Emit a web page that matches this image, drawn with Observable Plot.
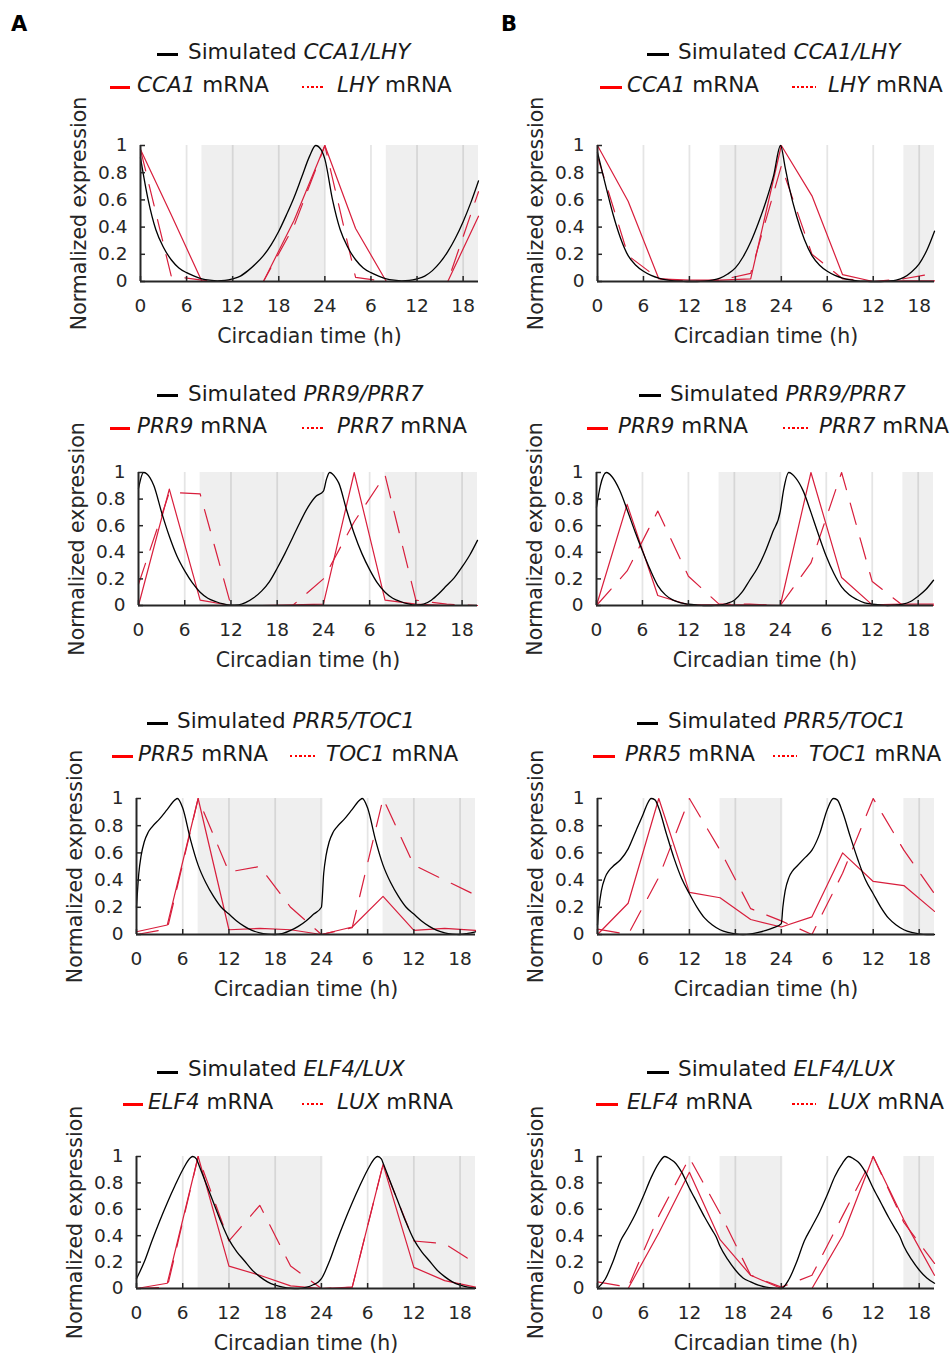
<!DOCTYPE html>
<html>
<head>
<meta charset="utf-8">
<script src="https://cdn.jsdelivr.net/npm/d3@7"></script>
<script src="https://cdn.jsdelivr.net/npm/@observablehq/plot@0.6"></script>
<style>
  html, body { margin: 0; padding: 0; background: #fff; }
  #fig { position: relative; width: 951px; height: 1356px; background: #fff; font-family: "DejaVu Sans", sans-serif; color: #1a1a1a; overflow: hidden; }
  .lg { position: absolute; font-size: 21.5px; line-height: 1; white-space: nowrap; color: #1a1a1a; }
  .sw { position: absolute; height: 3px; }
  .plab { position: absolute; font-weight: bold; font-size: 21px; line-height: 1; color: #000; }
</style>
</head>
<body>
<div id="fig"></div>
<script>
// ---------------- DATA ----------------
const sampleTimes = [0, 4, 8, 12, 16, 20, 24, 28, 32, 36, 40, 44];
const xTicks = [0, 6, 12, 18, 24, 30, 36, 42];
const xTickLabels = ["0", "6", "12", "18", "24", "6", "12", "18"];
const gridTicks = [6, 12, 18, 24, 30, 36, 42];
const yTicks = [0, 0.2, 0.4, 0.6, 0.8, 1];
const yTickLabels = ["0", "0.2", "0.4", "0.6", "0.8", "1"];
const xLabel = "Circadian time (h)";
const yLabel = "Normalized expression";
const nightsShortDay = [{start: 8, end: 24}, {start: 32, end: 44}];
const nightsLongDay = [{start: 16, end: 24}, {start: 40, end: 44}];

// Row 1: CCA1 / LHY
const cca1A = [0.97, 0.49, 0.0, 0.0, 0.0, 0.45, 1.0, 0.39, 0.0, 0.0, 0.0, 0.48];
const lhyA  = [0.97, 0.04, 0.01, 0.0, 0.0, 0.41, 1.0, 0.03, 0.0, 0.0, 0.0, 0.66];
const simCL_A = [[0,0.91],[1,0.6],[2,0.38],[3,0.25],[4,0.16],[5,0.1],[6,0.065],[7,0.04],[8,0.02],[9,0.01],[10,0.005],[11,0.008],[12,0.02],[13,0.04],[14,0.08],[15,0.13],[16,0.19],[17,0.27],[18,0.37],[19,0.49],[20,0.62],[21,0.77],[22,0.92],[22.8,1.0],[23.5,0.97],[24,0.9],[25,0.6],[26,0.38],[27,0.25],[28,0.16],[29,0.1],[30,0.065],[31,0.04],[32,0.02],[33,0.01],[34,0.005],[35,0.008],[36,0.02],[37,0.04],[38,0.08],[39,0.14],[40,0.22],[41,0.32],[42,0.44],[43,0.58],[44,0.74]];
const cca1B = [1.0, 0.59, 0.02, 0.01, 0.01, 0.02, 1.0, 0.63, 0.05, 0.0, 0.005, 0.005];
const lhyB  = [0.92, 0.19, 0.02, 0.0, 0.01, 0.06, 0.85, 0.2, 0.02, 0.0, 0.02, 0.06];
const simCL_B = [[0,0.95],[1,0.72],[2,0.5],[3,0.32],[4,0.19],[5,0.12],[6,0.075],[7,0.045],[8,0.025],[9,0.012],[10,0.005],[11,0.002],[12,0],[13,0],[14,0.003],[15,0.01],[16,0.025],[17,0.055],[18,0.1],[19,0.18],[20,0.29],[21,0.43],[22,0.59],[23,0.78],[23.9,1.0],[24.5,0.84],[25,0.7],[26,0.48],[27,0.31],[28,0.19],[29,0.12],[30,0.075],[31,0.045],[32,0.025],[33,0.012],[34,0.005],[35,0.002],[36,0],[37,0],[38,0.003],[39,0.01],[40,0.03],[41,0.07],[42,0.13],[43,0.23],[44,0.37]];

// Row 2: PRR9 / PRR7
const prr9A = [0.0, 0.875, 0.04, 0.0, 0.0, 0.005, 0.01, 1.0, 0.04, 0.01, 0.0, 0.0];
const prr7A = [0.16, 0.85, 0.84, 0.0, 0.0, 0.0, 0.2, 0.63, 0.98, 0.04, 0.01, 0.0];
const simPP_A = [[0,0.88],[0.65,1.0],[1.5,0.96],[2,0.9],[3,0.7],[4,0.52],[5,0.37],[6,0.26],[7,0.17],[8,0.1],[9,0.055],[10,0.03],[11,0.012],[12,0.003],[13,0.005],[14,0.025],[15,0.06],[16,0.11],[17,0.18],[18,0.28],[19,0.39],[20,0.51],[21,0.63],[22,0.74],[23,0.82],[24,0.86],[24.4,0.95],[24.8,1.0],[25.6,0.96],[26,0.92],[27,0.72],[28,0.54],[29,0.39],[30,0.27],[31,0.17],[32,0.1],[33,0.055],[34,0.03],[35,0.012],[36,0.003],[37,0.01],[38,0.04],[39,0.09],[40,0.15],[41,0.21],[42,0.29],[43,0.38],[44,0.49]];
const prr9B = [0.0, 0.76, 0.075, 0.005, 0.005, 0.005, 0.0, 1.0, 0.21, 0.005, 0.01, 0.01];
const prr7B = [0.0, 0.26, 0.71, 0.22, 0.01, 0.01, 0.0, 0.32, 1.0, 0.18, 0.0, 0.0];
const simPP_B = [[0,0.74],[0.5,0.9],[1.3,1.0],[2,0.97],[3,0.87],[4,0.72],[5,0.56],[6,0.41],[7,0.27],[8,0.15],[9,0.08],[10,0.04],[11,0.02],[12,0.01],[13,0.004],[14,0.0],[15,0.0],[16,0.003],[17,0.015],[18,0.04],[19,0.1],[20,0.19],[21,0.28],[22,0.4],[23,0.55],[24,0.71],[24.4,0.86],[25.1,1.0],[26,0.96],[27,0.86],[28,0.7],[29,0.53],[30,0.37],[31,0.24],[32,0.14],[33,0.08],[34,0.045],[35,0.02],[36,0.01],[37,0.004],[38,0.0],[39,0.003],[40,0.01],[41,0.03],[42,0.07],[43,0.12],[44,0.19]];

// Row 3: PRR5 / TOC1
const prr5A = [0.02, 0.07, 1.0, 0.035, 0.045, 0.035, 0.0, 0.055, 0.28, 0.03, 0.045, 0.03];
const toc1A = [0.0, 0.04, 1.0, 0.46, 0.5, 0.2, 0.0, 0.05, 1.0, 0.51, 0.4, 0.29];
const simPT_A = [[0,0.2],[0.3,0.45],[0.6,0.58],[1,0.68],[1.5,0.75],[2,0.79],[3,0.85],[4,0.92],[5,0.99],[5.3,1.0],[6,0.93],[7,0.7],[8,0.51],[9,0.38],[10,0.28],[11,0.2],[12,0.15],[13,0.1],[14,0.06],[15,0.03],[16,0.012],[17,0.003],[18,0.0],[19,0.008],[20,0.03],[21,0.06],[22,0.1],[23,0.15],[24,0.2],[24.3,0.45],[24.6,0.58],[25,0.68],[25.5,0.75],[26,0.79],[27,0.85],[28,0.92],[29,0.99],[29.3,1.0],[30,0.93],[31,0.7],[32,0.51],[33,0.38],[34,0.28],[35,0.2],[36,0.15],[37,0.1],[38,0.06],[39,0.03],[40,0.012],[41,0.003],[42,0.0],[43,0.008],[44,0.02]];
const prr5B = [0.0, 0.23, 1.0, 0.31, 0.27, 0.11, 0.055, 0.13, 0.6, 0.39, 0.36, 0.17];
const toc1B = [0.04, 0.0, 0.42, 1.0, 0.62, 0.19, 0.1, 0.0, 0.45, 1.0, 0.62, 0.3];
const simPT_B = [[0,0.07],[0.2,0.2],[0.5,0.32],[1,0.42],[1.5,0.47],[2,0.5],[3,0.55],[4,0.63],[5,0.76],[6,0.89],[6.5,0.96],[7,1.0],[7.5,0.99],[8,0.93],[9,0.74],[10,0.56],[11,0.41],[12,0.3],[13,0.2],[14,0.12],[15,0.07],[16,0.035],[17,0.015],[18,0.004],[19,0.0],[20,0.004],[21,0.015],[22,0.03],[23,0.05],[24,0.08],[24.2,0.2],[24.5,0.32],[25,0.42],[25.5,0.47],[26,0.5],[27,0.56],[28,0.62],[29,0.74],[30,0.92],[30.8,1.0],[31.3,0.99],[32,0.9],[33,0.72],[34,0.55],[35,0.4],[36,0.3],[37,0.2],[38,0.12],[39,0.07],[40,0.035],[41,0.015],[42,0.004],[43,0.0],[44,0.0]];

// Row 4: ELF4 / LUX
const elf4A = [0.0, 0.04, 1.0, 0.17, 0.1, 0.02, 0.0, 0.01, 0.94, 0.16, 0.06, 0.01];
const luxA  = [0.0, 0.01, 1.0, 0.36, 0.63, 0.17, 0.0, 0.01, 0.94, 0.36, 0.34, 0.19];
const simEL_A = [[0,0.075],[1,0.2],[2,0.36],[3,0.51],[4,0.65],[5,0.78],[6,0.9],[7,0.99],[7.3,1.0],[7.8,0.98],[8,0.95],[9,0.8],[10,0.65],[11,0.5],[12,0.37],[13,0.28],[14,0.21],[15,0.14],[16,0.09],[17,0.05],[18,0.025],[19,0.01],[20,0.002],[21,0.0],[22,0.008],[23,0.03],[23.6,0.05],[24,0.075],[25,0.2],[26,0.36],[27,0.51],[28,0.65],[29,0.78],[30,0.9],[31,0.99],[31.3,1.0],[31.8,0.98],[32,0.95],[33,0.8],[34,0.65],[35,0.5],[36,0.37],[37,0.28],[38,0.21],[39,0.14],[40,0.09],[41,0.05],[42,0.025],[43,0.01],[44,0.002]];
const elf4B = [0.0, 0.0, 0.42, 0.88, 0.37, 0.1, 0.0, 0.0, 0.4, 1.0, 0.52, 0.1];
const luxB  = [0.05, 0.01, 0.55, 0.99, 0.57, 0.1, 0.01, 0.1, 0.55, 1.0, 0.5, 0.19];
const simEL_B = [[0,0.0],[1,0.07],[2,0.2],[3,0.36],[4,0.46],[5,0.57],[6,0.7],[7,0.84],[8,0.95],[8.8,1.0],[9.5,0.98],[10,0.96],[11,0.88],[12,0.76],[13,0.65],[14,0.54],[15,0.44],[15.5,0.39],[16,0.32],[17,0.22],[18,0.14],[19,0.08],[20,0.05],[21,0.025],[22,0.01],[23,0.003],[24,0.0],[25,0.07],[26,0.2],[27,0.36],[28,0.47],[29,0.58],[30,0.71],[31,0.85],[32,0.95],[32.8,1.0],[33.5,0.98],[34,0.96],[35,0.88],[36,0.76],[37,0.65],[38,0.54],[39,0.44],[39.5,0.39],[40,0.32],[41,0.22],[42,0.14],[43,0.08],[44,0.04]];

const genes = [
  {sim: "CCA1/LHY", a: "CCA1", b: "LHY"},
  {sim: "PRR9/PRR7", a: "PRR9", b: "PRR7"},
  {sim: "PRR5/TOC1", a: "PRR5", b: "TOC1"},
  {sim: "ELF4/LUX", a: "ELF4", b: "LUX"}
];
const seriesA = [[simCL_A, cca1A, lhyA], [simPP_A, prr9A, prr7A], [simPT_A, prr5A, toc1A], [simEL_A, elf4A, luxA]];
const seriesB = [[simCL_B, cca1B, lhyB], [simPP_B, prr9B, prr7B], [simPT_B, prr5B, toc1B], [simEL_B, elf4B, luxB]];

// ---------------- LAYOUT ----------------
const plotBoxes = [
  {col: 0, row: 0, axisX: 140, rightX: 478, top: 145, bottom: 281},
  {col: 0, row: 1, axisX: 138, rightX: 477, top: 472, bottom: 605},
  {col: 0, row: 2, axisX: 136, rightX: 475, top: 798, bottom: 934},
  {col: 0, row: 3, axisX: 136, rightX: 475, top: 1156, bottom: 1288},
  {col: 1, row: 0, axisX: 597, rightX: 934, top: 145, bottom: 281},
  {col: 1, row: 1, axisX: 596, rightX: 933, top: 472, bottom: 605},
  {col: 1, row: 2, axisX: 597, rightX: 934, top: 798, bottom: 934},
  {col: 1, row: 3, axisX: 597, rightX: 934, top: 1156, bottom: 1288}
];
const legendBoxes = [
  {sw1: [157,178,54], t1: 188, b1: 59, sw2: [110,130,87], t2: 137, dot: [302,325], t3: 337, b2: 92},
  {sw1: [157,178,395], t1: 188, b1: 401, sw2: [110,130,428], t2: 137, dot: [302,325], t3: 337, b2: 433},
  {sw1: [147,168,723], t1: 177, b1: 728, sw2: [112,133,756], t2: 138, dot: [290,315], t3: 326, b2: 761},
  {sw1: [157,178,1072], t1: 188, b1: 1076, sw2: [123,143,1104], t2: 148, dot: [302,325], t3: 337, b2: 1109},
  {sw1: [647,669,54], t1: 678, b1: 59, sw2: [600,622,87], t2: 627, dot: [792,816], t3: 828, b2: 92},
  {sw1: [639,661,395], t1: 670, b1: 401, sw2: [587,608,428], t2: 618, dot: [783,808], t3: 819, b2: 433},
  {sw1: [637,658,723], t1: 668, b1: 728, sw2: [593,615,756], t2: 625, dot: [773,797], t3: 809, b2: 761},
  {sw1: [647,669,1072], t1: 678, b1: 1076, sw2: [596,618,1104], t2: 627, dot: [792,816], t3: 828, b2: 1109}
];

const RED = "#d81e3c";
const AXIS = "#262626";
const fig = document.getElementById("fig");

function rowsFrom(values) { return sampleTimes.map((t, i) => ({t, v: values[i]})); }
function simRows(pairs) { return pairs.map(([t, v]) => ({t, v})); }
const xLabelOf = new Map(xTicks.map((d, i) => [d, xTickLabels[i]]));
const yLabelOf = new Map(yTicks.map((d, i) => [d, yTickLabels[i]]));

function addDiv(cls, css, html) {
  const d = document.createElement("div");
  d.className = cls;
  Object.assign(d.style, css);
  if (html != null) d.innerHTML = html;
  fig.appendChild(d);
  return d;
}

plotBoxes.forEach((p, k) => {
  const [sim, solid, dashed] = (p.col === 0 ? seriesA : seriesB)[p.row];
  const nights = p.col === 0 ? nightsShortDay : nightsLongDay;
  const svgLeft = p.col === 0 ? 0 : 480;
  const svgW = p.col === 0 ? 480 : 471;
  const plotW = p.rightX - p.axisX;
  const plotH = p.bottom - p.top;
  const mt = 8, mb = 75;
  const chart = Plot.plot({
    width: svgW,
    height: mt + plotH + mb,
    marginLeft: p.axisX - svgLeft,
    marginRight: svgLeft + svgW - p.rightX,
    marginTop: mt,
    marginBottom: mb,
    x: {domain: [0, 44], axis: null},
    y: {domain: [0, 1], axis: null},
    style: {fontFamily: "DejaVu Sans", background: "transparent", overflow: "visible", color: AXIS},
    marks: [
      Plot.rect(nights, {x1: "start", x2: "end", fill: "#efefef"}),
      Plot.ruleX(gridTicks, {x: d => d, stroke: "black", strokeOpacity: 0.1, strokeWidth: 1.8}),
      Plot.line(rowsFrom(dashed), {x: "t", y: "v", stroke: RED, strokeWidth: 1.2, strokeDasharray: "22,14"}),
      Plot.line(rowsFrom(solid), {x: "t", y: "v", stroke: RED, strokeWidth: 1.2}),
      Plot.line(simRows(sim), {x: "t", y: "v", stroke: "black", strokeWidth: 1.3, curve: "monotone-x"}),
      Plot.tickX(xTicks, {x: d => d, insetTop: plotH - 5, stroke: AXIS, strokeWidth: 1.5}),
      Plot.tickY(yTicks, {y: d => d, insetRight: plotW - 5, stroke: AXIS, strokeWidth: 1.5}),
      Plot.ruleX([0], {x: d => d, stroke: AXIS, strokeWidth: 2}),
      Plot.ruleY([0], {y: d => d, stroke: AXIS, strokeWidth: 2}),
      Plot.axisX({ticks: xTicks, tickFormat: d => xLabelOf.get(d), tickSize: 0, tickPadding: 17.5, fontSize: 18.5, label: null, fill: AXIS}),
      Plot.axisY({ticks: yTicks, tickFormat: d => yLabelOf.get(d), tickSize: 0, tickPadding: 13, fontSize: 18.5, label: null, fill: AXIS}),
      Plot.text([xLabel], {text: d => d, frameAnchor: "bottom", textAnchor: "middle", lineAnchor: "top", dy: 47, fontSize: 20.5, fill: AXIS}),
      Plot.text([yLabel], {text: d => d, frameAnchor: "left", textAnchor: "middle", lineAnchor: "middle", rotate: -90, dx: -61, fontSize: 20.5, fill: AXIS})
    ]
  });
  chart.style.position = "absolute";
  chart.style.left = svgLeft + "px";
  chart.style.top = (p.top - mt) + "px";
  fig.appendChild(chart);

  const L = legendBoxes[k];
  const g = genes[p.row];
  const fs = 21.5, base = 0.846 * fs;
  addDiv("sw", {left: L.sw1[0] + "px", width: (L.sw1[1] - L.sw1[0]) + "px", top: (L.sw1[2] - 1.5) + "px", background: "#000"});
  addDiv("lg", {left: L.t1 + "px", top: (L.b1 - base) + "px"}, `Simulated <i>${g.sim}</i>`);
  addDiv("sw", {left: L.sw2[0] + "px", width: (L.sw2[1] - L.sw2[0]) + "px", top: (L.sw2[2] - 1.5) + "px", background: "#ff0000"});
  addDiv("lg", {left: L.t2 + "px", top: (L.b2 - base) + "px"}, `<i>${g.a}</i> mRNA`);
  addDiv("sw", {left: L.dot[0] + "px", width: (L.dot[1] - L.dot[0]) + "px", top: (L.sw2[2] - 1.25) + "px", height: "2.5px",
    background: "repeating-linear-gradient(to right, #ff0000 0 2.5px, transparent 2.5px 4.6px)"});
  addDiv("lg", {left: L.t3 + "px", top: (L.b2 - base) + "px"}, `<i>${g.b}</i> mRNA`);
});

addDiv("plab", {left: "11px", top: (32 - 0.846 * 21) + "px"}, "A");
addDiv("plab", {left: "501px", top: (32 - 0.846 * 21) + "px"}, "B");
</script>
</body>
</html>
